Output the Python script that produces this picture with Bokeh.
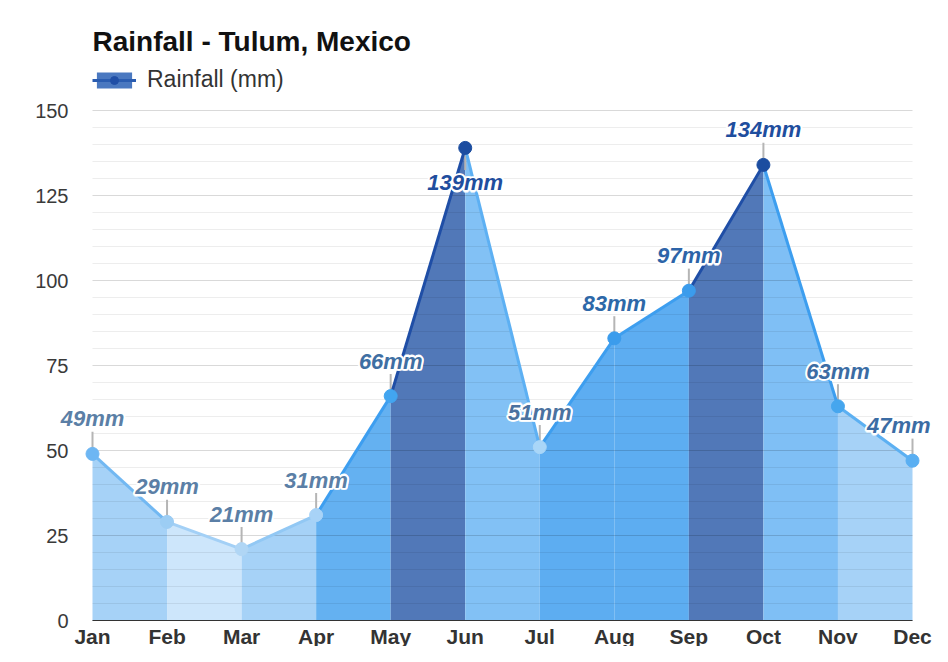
from bokeh.plotting import figure
from bokeh.models import (ColumnDataSource, LabelSet, Label, Legend, LegendItem, Range1d)
from bokeh.core.properties import value
from bokeh.embed import file_html
from bokeh.resources import INLINE

months = ["Jan", "Feb", "Mar", "Apr", "May", "Jun", "Jul", "Aug", "Sep", "Oct", "Nov", "Dec"]
rainfall = [49, 29, 21, 31, 66, 139, 51, 83, 97, 134, 63, 47]
y_ticks = [0, 25, 50, 75, 100, 125, 150]

# style per month (segment starting at that month)
fill_colors = ["#a6d2f7", "#cde6fb", "#a6d2f7", "#64b1f1", "#5178b8", "#82c1f5",
               "#5dadf1", "#5dadf1", "#5178b8", "#7fbff5", "#a6d2f7"]
line_colors = ["#72b8f2", "#a3d0f6", "#92c8f4", "#3d9ef0", "#1f4ea6", "#5db0f3",
               "#3d9eef", "#3d9eef", "#1f4ea6", "#3d9eef", "#5cb0f2"]
marker_colors = ["#6db6f3", "#9ccdf4", "#b0d6f5", "#a8d3f7", "#42a5f0", "#1c4da0",
                 "#a9d6f8", "#3b9cec", "#3b9cec", "#1c4da0", "#46a6ee", "#5aaff2"]
label_colors = ["#5b7fa6", "#5b7fa6", "#5b7fa6", "#5b7fa6", "#3f6fa3", "#1f4e9e",
                "#4b72a0", "#2d68a8", "#2d64a8", "#1f4e9e", "#3b6ca4", "#3b6ca4"]
label_dir = [1, 1, 1, 1, 1, -1, 1, 1, 1, 1, 1, 1]
label_align = ["center"] * 11 + ["right"]

FONT = value("Liberation Sans")

# frame covers whole canvas; ranges put Jan..Dec / 0..150 where the reference has them
XPX = 820 / 11
YPX = 510 / 150
p = figure(width=932, height=646, output_backend="svg", toolbar_location=None,
           x_range=Range1d(-92 / XPX, 11 + 20 / XPX),
           y_range=Range1d(-26 / YPX, 150 + 110 / YPX),
           min_border=0, x_axis_type=None, y_axis_type=None,
           background_fill_color="white", border_fill_color="white")
p.outline_line_color = None
p.grid.visible = False

n = len(months)
xs = list(range(n))

# area segments
for i in range(n - 1):
    p.varea(x=[i, i + 1], y1=[0, 0], y2=[rainfall[i], rainfall[i + 1]],
            fill_color=fill_colors[i], fill_alpha=1.0)

# grid lines (drawn over the fills, faint)
minor = [t for t in range(0, y_ticks[-1] + 1, 5) if t not in y_ticks]
p.segment(x0=[0] * len(minor), x1=[n - 1] * len(minor), y0=minor, y1=minor,
          line_color="black", line_alpha=0.07, line_width=1)
p.segment(x0=[0] * len(y_ticks), x1=[n - 1] * len(y_ticks), y0=y_ticks, y1=y_ticks,
          line_color="black", line_alpha=0.15, line_width=1)
# x axis line
p.segment(x0=[0], x1=[n - 1], y0=[0], y1=[0], line_color="#333333", line_width=1.2)

seg_src = ColumnDataSource(dict(
    x0=xs[:-1], x1=xs[1:], y0=rainfall[:-1], y1=rainfall[1:], c=line_colors))

xo = [18 if a == "right" else 0 for a in label_align]
off = [35 * d for d in label_dir]
pt_src = ColumnDataSource(dict(
    x=xs, y=rainfall, c=marker_colors, lc=label_colors, al=label_align,
    xo=xo, off=off,
    lead=[v + 6.5 * d for v, d in zip(rainfall, label_dir)],
    txt=[f"{v}mm" for v in rainfall]))

# leader lines
p.segment(x0="x", y0="y", x1="x", y1="lead", source=pt_src, line_color="#b5b5b5", line_width=2)
# line
p.segment(x0="x0", y0="y0", x1="x1", y1="y1", source=seg_src, line_color="c", line_width=3)
# markers
p.scatter(x="x", y="y", source=pt_src, size=13, fill_color="c", line_color="c")

# value labels: white halo (several shifted white copies), coloured text on top
lab_style = dict(text_baseline="middle", text_font=FONT, text_font_size="22px",
                 text_font_style="bold italic")
for dx, dy in [(-1.5, 0), (1.5, 0), (0, -1.5), (0, 1.5), (-1, -1), (1, 1), (-1, 1), (1, -1)]:
    halo_src = ColumnDataSource(dict(
        x=xs, y=rainfall, al=label_align, txt=pt_src.data["txt"],
        xo=[v + dx for v in xo], off=[v + dy for v in off]))
    p.add_layout(LabelSet(x="x", y="y", text="txt", source=halo_src, x_offset="xo",
                          y_offset="off", text_align="al", text_color="white",
                          text_outline_color="white", **lab_style))
p.add_layout(LabelSet(x="x", y="y", text="txt", source=pt_src, x_offset="xo",
                      y_offset="off", text_align="al", text_color="lc", **lab_style))

# tick labels
xt_src = ColumnDataSource(dict(x=xs, y=[0] * n, t=months))
p.add_layout(LabelSet(x="x", y="y", text="t", source=xt_src, y_offset=-23,
                      text_align="center", text_baseline="alphabetic",
                      text_font=FONT, text_font_size="21px", text_font_style="bold",
                      text_color="#333333"))
yt_src = ColumnDataSource(dict(x=[0] * len(y_ticks), y=y_ticks, t=[str(t) for t in y_ticks]))
p.add_layout(LabelSet(x="x", y="y", text="t", source=yt_src, x_offset=-24,
                      text_align="right", text_baseline="middle",
                      text_font=FONT, text_font_size="20px", text_color="#3a3a3a"))

# title
p.add_layout(Label(x=0, y=y_ticks[-1], y_offset=69, text="Rainfall - Tulum, Mexico",
                   text_font="Liberation Sans", text_font_size="28px", text_font_style="bold",
                   text_color="#111111", text_align="left", text_baseline="middle"))

# legend (dummy renderers lying outside the visible range, used only for the key)
r_area = p.varea(x=[-9, -8], y1=[0, 0], y2=[1, 1], fill_color="#4a78c0")
r_line = p.line(x=[-9, -8], y=[1, 1], line_color="#2a5cb0", line_width=3)
r_dot = p.scatter(x=[-9], y=[1], size=11, fill_color="#1f4ea6", line_color="#1f4ea6")
legend = Legend(items=[LegendItem(label="Rainfall (mm)", renderers=[r_area, r_line, r_dot])],
                location=(92, 553), padding=0, margin=0, spacing=0,
                glyph_width=44, glyph_height=20, label_standoff=11,
                label_text_font="Liberation Sans", label_text_font_size="23px",
                label_text_color="#333333",
                background_fill_alpha=0, border_line_color=None)
p.add_layout(legend)

open("out.html", "w").write(file_html(p, INLINE))
